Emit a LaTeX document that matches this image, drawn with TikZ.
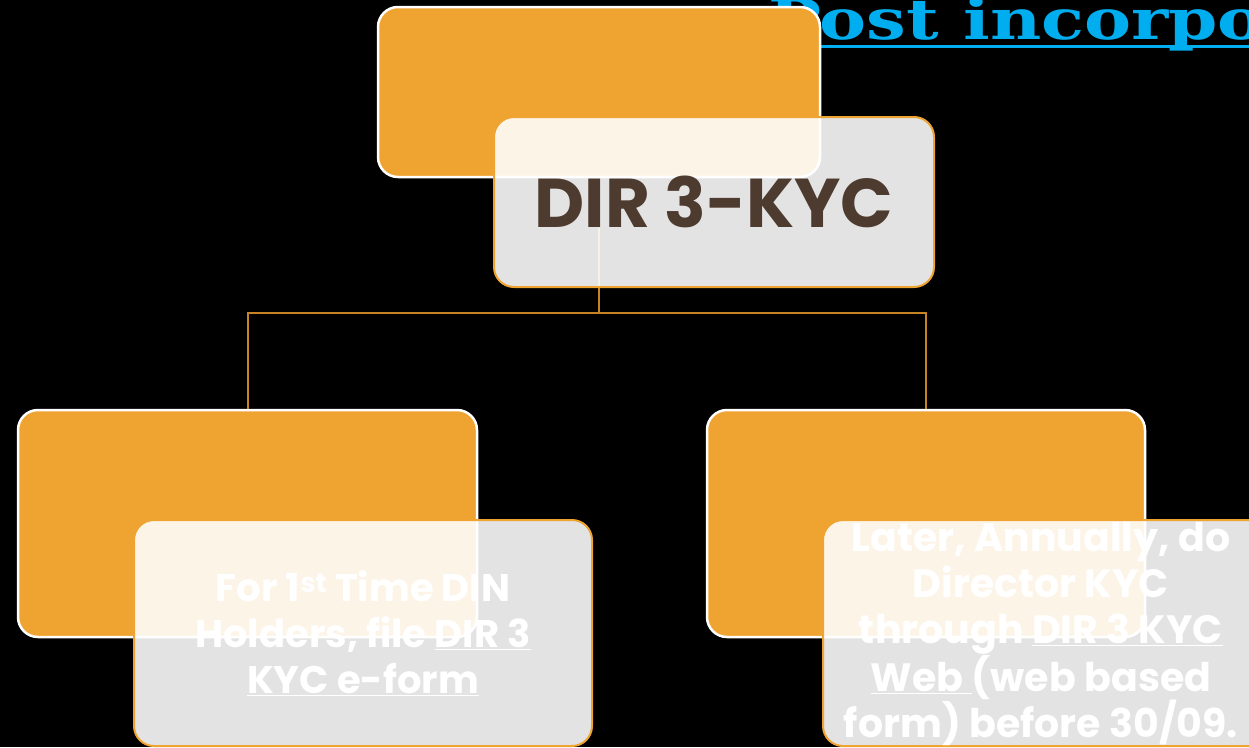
\documentclass[tikz,border=0pt]{standalone}
\usepackage{fontspec}
\setmainfont{Poppins}
\newfontfamily\titlefont[FakeStretch=1.26]{DejaVu Serif}
\definecolor{orng}{HTML}{EFA331}
\definecolor{conncol}{HTML}{C78424}
\definecolor{brwn}{HTML}{4E3B30}
\definecolor{ttlblue}{HTML}{00AEEF}
\tikzset{
  obox/.style={draw=white, line width=2.5pt, fill=orng, rounded corners=20pt, anchor=center},
  gbox/.style={draw=orng, line width=2pt, fill=white, fill opacity=0.89, text opacity=1, rounded corners=20pt, anchor=center, align=center, font=\bfseries\fontsize{38.5}{46}\selectfont, text=white},
  gtext/.style={anchor=center, align=center, font=\bfseries\fontsize{39.5}{46}\selectfont, text=white},
  conn/.style={draw=conncol, line width=2pt},
}
\newcommand{\ul}[1]{\underline{#1}}
\begin{document}
\begin{tikzpicture}[x=1pt,y=-1pt]
\useasboundingbox (0,0) rectangle (1249,747);
\fill[black] (0,0) rectangle (1249,747);
% title
\node[anchor=base west, inner sep=0pt, text=ttlblue, font=\titlefont\bfseries\fontsize{56}{60}\selectfont] (title) at (768,39) {Post incorporation};
\draw[ttlblue, line width=3pt] (768,46) -- (1249,46);
% connectors
\coordinate (tj) at (599,228);
\coordinate (hub) at (599,313);
\node[obox, minimum width=459pt, minimum height=227pt] (lo) at (247.5,523.5) {};
\node[obox, minimum width=438pt, minimum height=227pt] (ro) at (926,523.5) {};
\draw[conn] (tj) -- (hub) -| (lo.north);
\draw[conn] (hub) -| (ro.north);
\node[obox, minimum width=442pt, minimum height=170pt] (to) at (599,92) {};
% gray boxes
\node[gbox, minimum width=440pt, minimum height=170pt, text=brwn, font=\bfseries\fontsize{69}{74}\selectfont] (tg) at (714,202) {DIR 3-KYC};
\node[gbox, minimum width=458pt, minimum height=226pt] (lg) at (363,633) {For 1\textsuperscript{st} Time DIN\\Holders, file \ul{DIR 3}\\\ul{KYC e-form}};
\node[gbox, minimum width=458pt, minimum height=226pt] (rg) at (1052,633) {};
\node[gtext] (rt) at (1041,634) {Later, Annually, do\\Director KYC\\through \ul{DIR 3 KYC}\\\ul{Web }(web based\\form) before 30/09.};
\end{tikzpicture}
\end{document}
